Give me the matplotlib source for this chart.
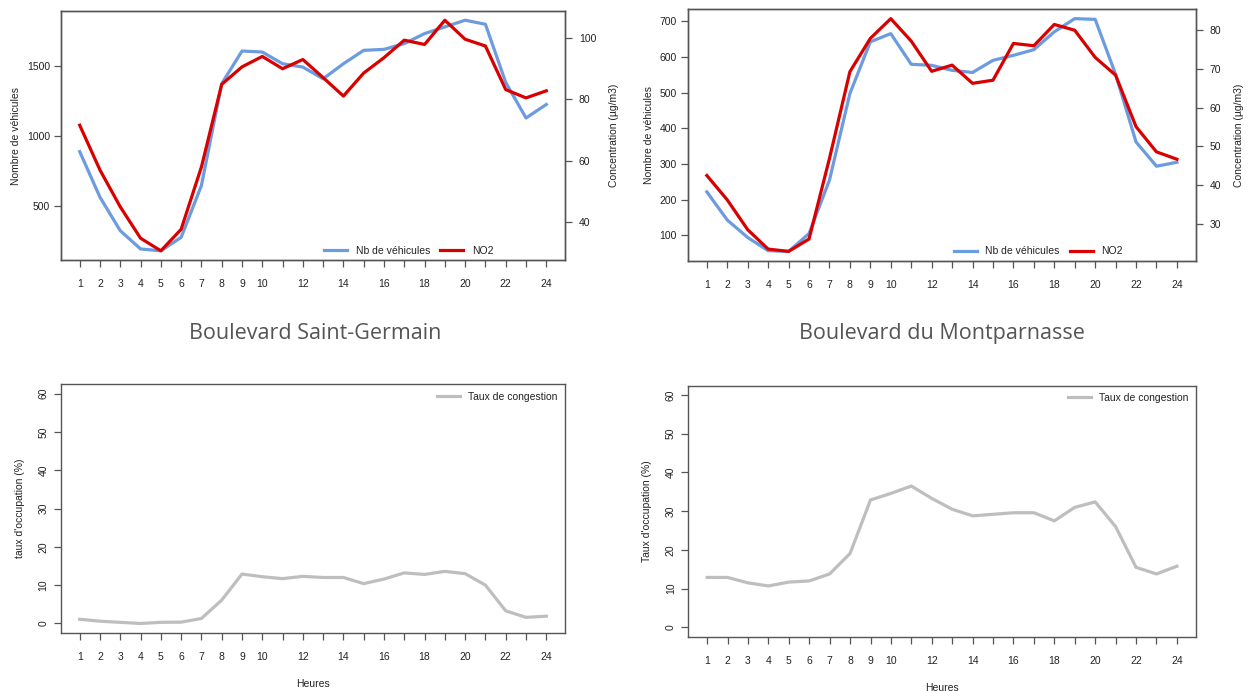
import matplotlib.pyplot as plt

plt.rcParams['font.family'] = ['Liberation Sans', 'DejaVu Sans']

heures = list(range(1, 25))

# Boulevard Saint-Germain
sg_vehicules = [889, 562, 322, 191, 178, 274, 646, 1376, 1610, 1603, 1519, 1495,
                1411, 1519, 1615, 1622, 1663, 1735, 1783, 1831, 1802, 1385, 1130, 1227]
sg_no2 = [71.6, 57.0, 45.0, 34.8, 30.7, 37.7, 58.0, 84.9, 90.6, 94.0, 90.0, 93.0,
          87.1, 81.1, 88.6, 93.6, 99.3, 97.9, 105.8, 99.6, 97.4, 83.2, 80.5, 82.8]
sg_congestion = [1.1, 0.6, 0.3, 0.0, 0.3, 0.35, 1.3, 6.1, 12.9, 12.2, 11.7, 12.3,
                 12.0, 12.0, 10.4, 11.6, 13.2, 12.8, 13.6, 13.0, 10.0, 3.3, 1.6, 1.9]

# Boulevard du Montparnasse
mp_vehicules = [222, 143, 94, 57, 55, 105, 255, 498, 643, 666, 580, 577,
                563, 557, 591, 605, 621, 671, 708, 706, 552, 362, 294, 305]
mp_no2 = [42.5, 36.2, 28.5, 23.5, 22.9, 26.1, 46.9, 69.3, 77.9, 83.0, 77.2, 69.4,
          71.0, 66.3, 67.1, 76.6, 76.0, 81.5, 80.0, 73.0, 68.4, 55.1, 48.6, 46.7]
mp_congestion = [12.9, 12.9, 11.5, 10.7, 11.7, 12.0, 13.8, 19.1, 32.9, 34.6, 36.5, 33.3,
                 30.5, 28.8, 29.2, 29.6, 29.6, 27.5, 31.0, 32.4, 26.0, 15.5, 13.8, 15.8]

BLEU = '#6C9BE0'
ROUGE = '#D90000'
GRIS = '#BEBEBE'
TXT = '#222222'
CADRE = '#555555'
FS = 7.5

x_labels = [str(h) if (h <= 10 or h % 2 == 0) else '' for h in heures]


def style_axes(ax):
    for s in ax.spines.values():
        s.set_color(CADRE)
        s.set_linewidth(1.0)
    ax.tick_params(axis='both', direction='out', length=5, width=0.9,
                   color=CADRE, labelsize=FS, labelcolor=TXT)
    ax.tick_params(axis='x', pad=9)
    ax.set_xticks(heures)
    ax.set_xticklabels(x_labels)
    ax.set_xlim(0.08, 24.92)


def panel_trafic(rect, vehicules, no2, yticks_l, yticks_r):
    ax = fig.add_axes(rect)
    ax.plot(heures, vehicules, color=BLEU, lw=2.3, label='Nb de véhicules')
    ax.margins(x=0.04, y=0.04)
    style_axes(ax)
    ax.set_yticks(yticks_l)
    ax.tick_params(axis='y', pad=3)
    ax.set_ylabel('Nombre de véhicules', fontsize=FS, color=TXT, labelpad=4)

    ax2 = ax.twinx()
    ax2.plot(heures, no2, color=ROUGE, lw=2.3, label='NO2')
    ax2.margins(x=0.04, y=0.04)
    style_axes(ax2)
    ax2.set_yticks(yticks_r)
    ax2.tick_params(axis='y', pad=5)
    ax2.set_ylabel('Concentration (µg/m3)', fontsize=FS, color=TXT, labelpad=9)

    h1, l1 = ax.get_legend_handles_labels()
    h2, l2 = ax2.get_legend_handles_labels()
    ax2.legend(h1 + h2, l1 + l2, loc='lower center', bbox_to_anchor=(0.69, -0.02),
               ncol=2, frameon=False, fontsize=FS, handlelength=2.2,
               handletextpad=0.8, columnspacing=1.0, labelcolor=TXT)
    return ax


def panel_congestion(rect, congestion, ylabel):
    ax = fig.add_axes(rect)
    ax.plot(heures, congestion, color=GRIS, lw=2.3, label='Taux de congestion')
    style_axes(ax)
    ax.set_ylim(-2.4, 62.4)
    ax.set_yticks(range(0, 61, 10))
    for lab in ax.get_yticklabels():
        lab.set_rotation(90)
        lab.set_va('center')
    ax.tick_params(axis='y', pad=4)
    ax.set_ylabel(ylabel, fontsize=FS, color=TXT, labelpad=10)
    ax.set_xlabel('Heures', fontsize=FS, color=TXT, labelpad=12)
    ax.legend(loc='upper right', frameon=False, fontsize=FS, handlelength=2.2,
              handletextpad=0.8, borderaxespad=0.3, labelcolor=TXT)
    return ax


fig = plt.figure(figsize=(12.56, 6.91), dpi=100)

panel_trafic([0.0486, 0.6237, 0.4012, 0.3604], sg_vehicules, sg_no2,
             [500, 1000, 1500], [40, 60, 80, 100])
panel_trafic([0.5478, 0.6227, 0.4042, 0.3638], mp_vehicules, mp_no2,
             range(100, 701, 100), range(30, 81, 10))

panel_congestion([0.0486, 0.0844, 0.4012, 0.3594], sg_congestion, "taux d'occupation (%)")
panel_congestion([0.5480, 0.0786, 0.4040, 0.3632], mp_congestion, "Taux d'occupation (%)")

# titres des deux boulevards entre les rangées
titre = dict(ha='center', va='center', fontsize=15.5, color='#555555',
             family=['Open Sans', 'DejaVu Sans'], fontweight='normal')
fig.text(0.2510, 0.518, 'Boulevard Saint-Germain', **titre)
fig.text(0.7502, 0.518, 'Boulevard du Montparnasse', **titre)

fig.savefig('out.png', dpi=100)
